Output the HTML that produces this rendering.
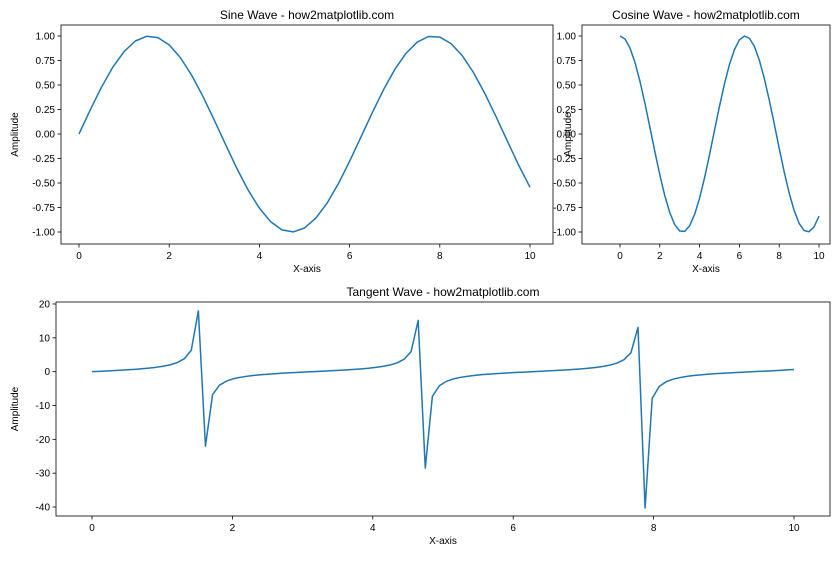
<!DOCTYPE html>
<html><head><meta charset="utf-8"><style>
body{margin:0;background:#fff;}
svg{font-family:"Liberation Sans","DejaVu Sans",sans-serif;}
</style></head><body>
<svg id="fig" width="840" height="560" xmlns="http://www.w3.org/2000/svg"></svg>
<script>
const sinX=[0,.25,.5,.75,1,1.25,1.5,1.75,2,2.25,2.5,2.75,3,3.25,3.5,3.75,4,4.25,4.5,4.75,5,5.25,5.5,5.75,6,6.25,6.5,6.75,7,7.25,7.5,7.75,8,8.25,8.5,8.75,9,9.25,9.5,9.75,10];
const sinY=[0,.247,.479,.682,.841,.949,.997,.984,.909,.778,.598,.382,.141,-.108,-.351,-.572,-.757,-.895,-.978,-.999,-.959,-.859,-.706,-.508,-.279,-.033,.215,.450,.657,.823,.938,.995,.989,.922,.798,.625,.412,.174,-.075,-.319,-.544];
const cosY=[1,.969,.878,.732,.540,.315,.071,-.178,-.416,-.628,-.801,-.924,-.990,-.994,-.936,-.820,-.654,-.446,-.211,.038,.284,.512,.709,.861,.960,.9995,.977,.895,.754,.568,.347,.104,-.146,-.386,-.602,-.780,-.911,-.985,-.997,-.948,-.839];
const tanY=[0,.101,.205,.313,.428,.553,.695,.854,1.044,1.285,1.592,2.01,2.67,3.79,6.33,17.96,-22.0,-6.78,-3.96,-2.75,-2.07,-1.63,-1.31,-1.072,-0.872,-0.709,-0.566,-0.440,-0.324,-0.216,-0.112,-0.010,0.091,0.194,0.301,0.415,0.539,0.679,0.838,1.025,1.26,1.557,1.97,2.585,3.64,5.93,15.15,-28.5,-7.30,-4.14,-2.84,-2.13,-1.67,-1.34,-1.09,-0.891,-0.724,-0.580,-0.452,-0.335,-0.226,-0.122,-0.021,0.081,0.183,0.291,0.403,0.526,0.664,0.821,1.005,1.23,1.52,1.92,2.51,3.50,5.58,13.1,-40.3,-7.91,-4.35,-2.94,-2.19,-1.71,-1.37,-1.11,-0.908,-0.740,-0.594,-0.464,-0.347,-0.237,-0.133,-0.031,0.070,0.173,0.279,0.391,0.514,0.648];
const tanXMax=10;
const xTicks=[0,2,4,6,8,10];
const trigYTicks=[1,0.75,0.5,0.25,0,-0.25,-0.5,-0.75,-1];
const trigYLabels=["1.00","0.75","0.50","0.25","0.00","-0.25","-0.50","-0.75","-1.00"];
const tanYTicks=[20,10,0,-10,-20,-30,-40];

const NS="http://www.w3.org/2000/svg";
const svg=document.getElementById('fig');
function mk(tag,attrs,parent){const e=document.createElementNS(NS,tag);for(const k in attrs)e.setAttribute(k,attrs[k]);(parent||svg).appendChild(e);return e;}
function lin(d0,d1,r0,r1){return v=>r0+(v-d0)*(r1-r0)/(d1-d0);}

function panel(name,box,xs,ys,xt,yt,ytl,xsData,ysData,title){
  const g=mk('g',{});
  
  
  const fr=mk('rect',{x:box.x0,y:box.y0,width:box.x1-box.x0,height:box.y1-box.y0,fill:'none',stroke:'#000','stroke-width':0.8},g);
  
  
  xt.forEach(v=>{const x=xs(v);
    mk('line',{x1:x,x2:x,y1:box.y1,y2:box.y1+3.5,stroke:'#000','stroke-width':0.8},g);
    const t=mk('text',{x:x,y:box.y1+15,'font-size':10,'text-anchor':'middle',fill:'#000'},g);t.textContent=String(v);
    
    
  });
  yt.forEach((v,i)=>{const y=ys(v);
    mk('line',{x1:box.x0-3.5,x2:box.x0,y1:y,y2:y,stroke:'#000','stroke-width':0.8},g);
    const t=mk('text',{x:box.x0-6,y:y+3.5,'font-size':10,'text-anchor':'end',fill:'#000'},g);t.textContent=ytl[i];
    
    
  });
  const pts=xsData.map((x,i)=>xs(x).toFixed(2)+','+ys(ysData[i]).toFixed(2)).join(' ');
  const pl=mk('polyline',{points:pts,fill:'none',stroke:'#1f77b4','stroke-width':1.5,'stroke-linejoin':'round'},g);
  
  
  const tt=mk('text',{x:(box.x0+box.x1)/2,y:box.y0-6,'font-size':12,'text-anchor':'middle',fill:'#000'},g);tt.textContent=title;
  
  
  const xl=mk('text',{x:(box.x0+box.x1)/2,y:box.y1+28,'font-size':10,'text-anchor':'middle',fill:'#000'},g);xl.textContent='X-axis';
  
  
  const cy=(box.y0+box.y1)/2, cx=box.lx;
  const yl=mk('text',{x:cx,y:cy,'font-size':10,'text-anchor':'middle',fill:'#000',transform:'rotate(-90 '+cx+' '+cy+')'},g);yl.textContent='Amplitude';
  
  
}
const b1={x0:61,x1:553,y0:25,y1:244,lx:18};
panel('sine',b1,lin(0,10,79,530),lin(-1,1,232,36),xTicks,trigYTicks,trigYLabels,sinX,sinY,'Sine Wave - how2matplotlib.com');
const b2={x0:582,x1:830,y0:25,y1:244,lx:571};
panel('cosine',b2,lin(0,10,620,819),lin(-1,1,232,36),xTicks,trigYTicks,trigYLabels,sinX,cosY,'Cosine Wave - how2matplotlib.com');
const tanX=tanY.map((_,i)=>i*tanXMax/(tanY.length-1));
const b3={x0:56,x1:830,y0:302,y1:516,lx:18};
panel('tangent',b3,lin(0,10,92,794),lin(-40,20,507,304),xTicks,tanYTicks,tanYTicks.map(String),tanX,tanY,'Tangent Wave - how2matplotlib.com');
</script>
</body></html>
